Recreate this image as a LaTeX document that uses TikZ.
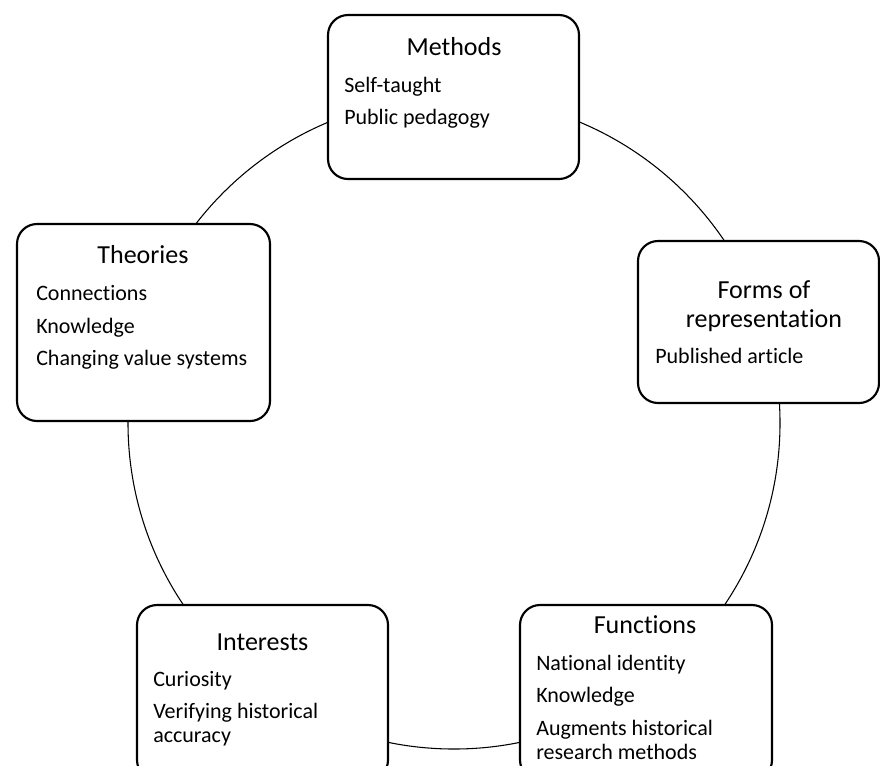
\documentclass[tikz,border=0pt]{standalone}
\usepackage{fontspec}
\setmainfont{Carlito}[Ligatures=NoCommon]
\begin{document}
\begin{tikzpicture} [x=0.75pt,y=-0.75pt,mybox/.style={rectangle, draw, rounded corners=15pt, line width=1.6pt, fill=white},mytitle/.style={anchor=base, inner sep=0pt, font=\fontsize{19.5}{23}\selectfont},myitem/.style={anchor=base west, inner sep=0pt, font=\fontsize{16.5}{20}\selectfont}]
  \useasboundingbox (0,0) rectangle (880,765);
  \clip (0,0) rectangle (880,765);

  % ring behind the boxes
  \coordinate (c) at (454,423);
  \draw[line width=0.8pt] (c) circle [radius=244.5pt];

  \node[mybox, minimum width=188.25pt, minimum height=123pt] (methods) at (453.5,97) {};
  \node[mybox, minimum width=189.75pt, minimum height=147.75pt] (theories) at (143.5,322.5) {};
  \node[mybox, minimum width=180.75pt, minimum height=121.5pt] (forms) at (758.5,322) {};
  \node[mybox, minimum width=188.25pt, minimum height=131.25pt] (interests) at (262.5,692.5) {};
  \node[mybox, minimum width=189pt, minimum height=131.25pt] (functions) at (646,692.5) {};

  \node[mytitle] (methodst) at (454,55) {Methods};
  \node[myitem] (m1) at (344,92) {Self-taught};
  \node[myitem] (m2) at (344,124) {Public pedagogy};

  \node[mytitle] (theoriest) at (143,263) {Theories};
  \node[myitem] (t1) at (36,300) {Connections};
  \node[myitem] (t2) at (36,333) {Knowledge};
  \node[myitem] (t3) at (36,365) {Changing value systems};

  \node[mytitle] (formst) at (764,298) {Forms of};
  \node[mytitle] (formst2) at (764,327) {representation};
  \node[myitem] (f1) at (655,363) {Published article};

  \node[mytitle] (interestst) at (262.5,650) {Interests};
  \node[myitem] (i1) at (153,686) {Curiosity};
  \node[myitem] (i2) at (153,718) {Verifying historical};
  \node[myitem] (i3) at (153,742) {accuracy};

  \node[mytitle] (functionst) at (645,633) {Functions};
  \node[myitem] (u1) at (536,670) {National identity};
  \node[myitem] (u2) at (536,702) {Knowledge};
  \node[myitem] (u3) at (536,735) {Augments historical};
  \node[myitem] (u4) at (536,759) {research methods};

\end{tikzpicture}
\end{document}
